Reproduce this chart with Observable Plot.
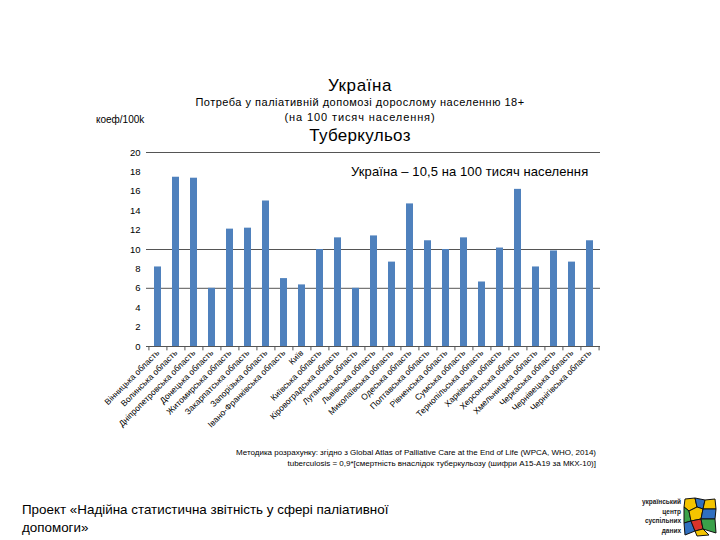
<!DOCTYPE html>
<html><head><meta charset="utf-8">
<script src="https://cdn.jsdelivr.net/npm/d3@7"></script>
<script src="https://cdn.jsdelivr.net/npm/@observablehq/plot@0.6"></script>
<style>
body{margin:0;background:#fff;font-family:"Liberation Sans",Arial,sans-serif;}
#page{position:relative;width:720px;height:540px;overflow:hidden;}
.t{position:absolute;white-space:nowrap;color:#000;}
#chart{position:absolute;left:0;top:140px;}
</style></head>
<body><div id="page">
<div class="t" style="left:0;width:720px;text-align:center;top:76px;font-size:17px;letter-spacing:0.6px;">Україна</div>
<div class="t" style="left:0;width:720px;text-align:center;top:96px;font-size:11px;letter-spacing:0.5px;">Потреба у паліативній допомозі дорослому населенню 18+</div>
<div class="t" style="left:0;width:720px;text-align:center;top:111px;font-size:11px;letter-spacing:0.9px;">(на 100 тисяч населення)</div>
<div class="t" style="left:96px;top:114px;font-size:10px;">коеф/100k</div>
<div class="t" style="left:0;width:720px;text-align:center;top:126px;font-size:17px;letter-spacing:0.3px;">Туберкульоз</div>
<div id="chart"></div>
<div class="t" style="left:351px;top:164px;font-size:13px;letter-spacing:0.1px;">Україна – 10,5 на 100 тисяч населення</div>
<div class="t" style="right:124px;top:447px;font-size:8px;text-align:right;line-height:11px;">Методика розрахунку: згідно з Global Atlas of Palliative Care at the End of Life (WPCA, WHO, 2014)<br>tuberculosis = 0,9*[смертність внаслідок туберкульозу (шифри A15-A19 за МКХ-10)]</div>
<div class="t" style="left:22px;top:501px;font-size:13.4px;line-height:18px;">Проект «Надійна статистична звітність у сфері паліативної<br>допомоги»</div>
<div class="t" style="right:39px;top:497px;font-size:6.5px;font-weight:bold;text-align:right;line-height:9.6px;color:#222;">український<br>центр<br>суспільних<br>даних</div>
<svg style="position:absolute;left:683px;top:497px;" width="34" height="40" viewBox="0 0 34 40">
<polygon points="2,2 12,1 14,10 6,14 1,10" fill="#f4c400" stroke="#111" stroke-width="1"/>
<polygon points="12,1 22,3 20,12 14,10" fill="#2f6fc0" stroke="#111" stroke-width="1"/>
<polygon points="22,3 32,2 33,12 20,12" fill="#f4c400" stroke="#111" stroke-width="1"/>
<polygon points="1,10 6,14 8,24 1,26" fill="#3aa14a" stroke="#111" stroke-width="1"/>
<polygon points="6,14 14,10 20,12 18,22 8,24" fill="#f4c400" stroke="#111" stroke-width="1"/>
<polygon points="20,12 33,12 32,22 18,22" fill="#2f6fc0" stroke="#111" stroke-width="1"/>
<polygon points="1,26 8,24 12,34 2,38" fill="#2f6fc0" stroke="#111" stroke-width="1"/>
<polygon points="8,24 18,22 20,32 12,34" fill="#d9342b" stroke="#111" stroke-width="1"/>
<polygon points="18,22 32,22 33,36 20,32" fill="#3aa14a" stroke="#111" stroke-width="1"/>
<polygon points="12,34 20,32 26,38 14,39" fill="#f4c400" stroke="#111" stroke-width="1"/>
</svg>
</div>
<script>
const regions = ["Вінницька область","Волинська область","Дніпропетровська область","Донецька область","Житомирська область","Закарпатська область","Запорізька область","Івано-Франківська область","Київ","Київська область","Кіровоградська область","Луганська область","Львівська область","Миколаївська область","Одеська область","Полтавська область","Рівненська область","Сумська область","Тернопільська область","Харківська область","Херсонська область","Хмельницька область","Черкаська область","Чернівецька область","Чернігівська область"];
const values = [8.2,17.45,17.35,6.0,12.1,12.2,15.0,7.0,6.35,10.0,11.2,6.0,11.4,8.7,14.7,10.9,10.0,11.2,6.65,10.15,16.2,8.2,9.85,8.7,10.9];
const yTicks = [0,2,4,6,8,10,12,14,16,18,20];
const gridLines = [6,10,20];

const data = regions.map((r,i)=>({region:r, value:values[i]}));
const W = 720, mL = 146, mR = 120;
const step = (W - mL - mR) / regions.length;
const chart = Plot.plot({
  width: W, height: 300,
  marginLeft: mL, marginRight: mR, marginTop: 12, marginBottom: 94,
  style: {fontFamily: '"Liberation Sans", Arial, sans-serif', background: "transparent", overflow: "visible"},
  x: {type: "band", domain: regions, paddingInner: 0.62, paddingOuter: 0.31, align: 0.5, label: null},
  y: {domain: [0,20], label: null},
  marks: [
    Plot.ruleY(gridLines, {stroke: "#555", strokeWidth: 1}),
    Plot.barY(data, {x: "region", y: "value", fill: "#4F81BD"}),
    Plot.ruleY([0], {stroke: "#555", strokeWidth: 1}),
    Plot.ruleX(regions, {x: d => d, dx: -step/2, y1: 0, y2: -0.45, stroke: "#555", clip: false}),
    Plot.ruleX([regions[regions.length-1]], {x: d => d, dx: step/2, y1: 0, y2: -0.45, stroke: "#555"}),
    Plot.axisY({ticks: yTicks, tickSize: 0, tickPadding: 6, fontSize: 9.5, tickFormat: d => String(d)}),
    Plot.axisX({tickSize: 0, tickRotate: -45, tickPadding: 5, fontSize: 8.5, label: null})
  ]
});
document.getElementById("chart").appendChild(chart);
</script>
</body></html>
